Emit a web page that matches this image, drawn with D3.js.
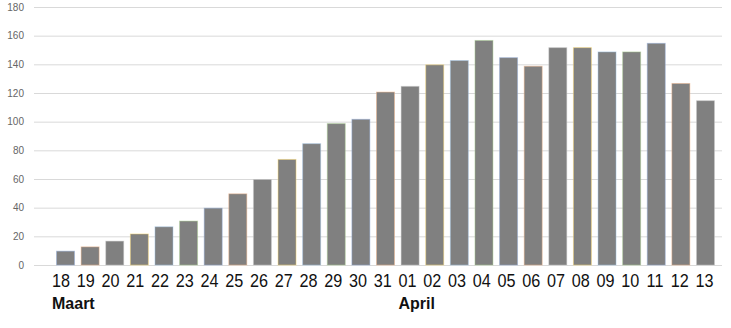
<!DOCTYPE html>
<html><head><meta charset="utf-8">
<script src="https://cdn.jsdelivr.net/npm/d3@7"></script>
<style>
html,body{margin:0;padding:0;background:#fff;}
svg{display:block;}
</style>
</head><body>
<svg id="chart" width="731" height="328"></svg>
<script>
const days = ["18","19","20","21","22","23","24","25","26","27","28","29","30","31","01","02","03","04","05","06","07","08","09","10","11","12","13"];
const values = [10,13,17,22,27,31,40,50,60,74,85,99,102,121,125,140,143,157,145,139,152,152,149,149,155,127,115];
const yTicks = [0,20,40,60,80,100,120,140,160,180];
const outlineColors = ["#8faadc","#f4b183","#c9c9c9","#ffd966","#9dc3e6","#a9d18e"];
const monthLabels = [{day:"18", text:"Maart"},{day:"01", text:"April"}];

const svg = d3.select("#chart");

const y = d3.scaleLinear().domain([0,180]).range([265,7]);
const x = d3.scaleBand().domain(days).range([43.7,727.3]).paddingInner(0.228).paddingOuter(0.5);
const xl = d3.scalePoint().domain(days).range([60.5,704]);

// gridlines + y labels
const yAxis = d3.axisLeft(y).tickValues(yTicks).tickSize(-(722-34)).tickPadding(10);
const gy = svg.append("g").attr("transform","translate(34,0)").call(yAxis);
gy.select(".domain").remove();
gy.selectAll(".tick line").attr("stroke","#d9d9d9").attr("stroke-width",1);
gy.selectAll(".tick text").attr("fill","#666").attr("font-family","Liberation Sans, Arial, sans-serif").attr("font-size",10);

// bars
svg.append("g").selectAll("rect").data(values).join("rect")
  .attr("x",(d,i)=>x(days[i])+0.5)
  .attr("y",d=>y(d)+0.5)
  .attr("width",x.bandwidth()-1)
  .attr("height",d=>y(0)-y(d)-0.5)
  .attr("fill","#808080")
  .attr("stroke",(d,i)=>outlineColors[i%outlineColors.length])
  .attr("stroke-opacity",0.45)
  .attr("stroke-width",1);

// x labels
const xAxis = d3.axisBottom(xl).tickSize(0).tickPadding(0);
const gx = svg.append("g").attr("transform","translate(0,287)").call(xAxis);
gx.select(".domain").remove();
gx.selectAll(".tick text")
  .attr("fill","#111")
  .attr("font-family","Liberation Sans, Arial, sans-serif")
  .attr("font-size",18)
  .attr("dy",0)
  .attr("text-anchor","middle")
  .attr("transform","scale(0.9,1)");

// month labels
svg.append("g").selectAll("text").data(monthLabels).join("text")
  .attr("x",d=>xl(d.day)-8.5)
  .attr("y",309)
  .attr("font-family","Liberation Sans, Arial, sans-serif")
  .attr("font-weight","bold")
  .attr("font-size",16)
  .attr("fill","#111")
  .text(d=>d.text);
</script>
</body></html>
